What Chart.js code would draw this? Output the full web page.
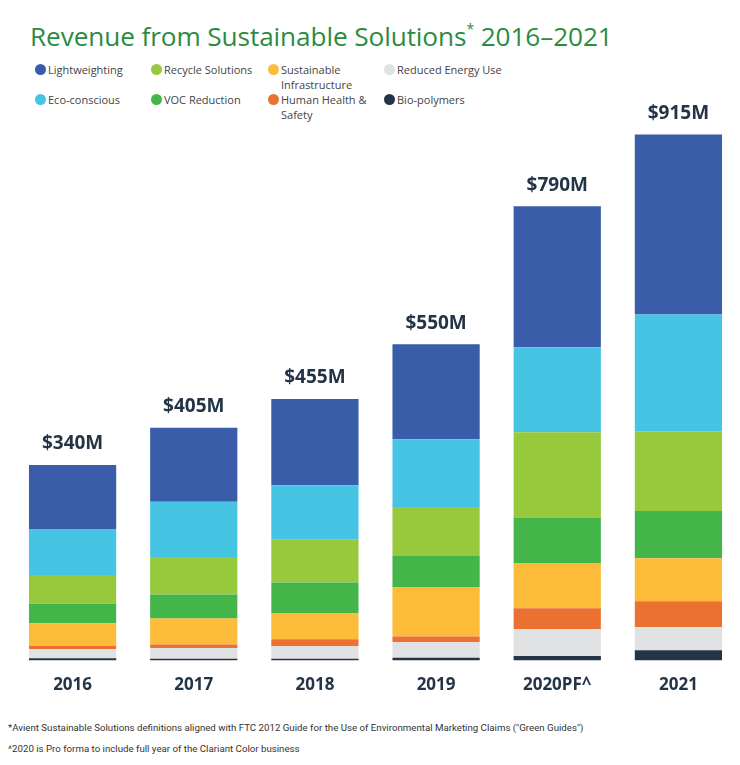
<!DOCTYPE html>
<html>
<head>
<meta charset="utf-8">
<script src="https://cdn.jsdelivr.net/npm/chart.js@4.4.1/dist/chart.umd.min.js"></script>
<style>
  html, body { margin: 0; padding: 0; background: #fff; }
  body { width: 740px; height: 765px; position: relative; overflow: hidden; font-family: "Open Sans", "Noto Sans", sans-serif; }
  #title { position: absolute; left: 30px; top: 18px; font-size: 26.2px; color: #2b8c3f; font-weight: 400; letter-spacing: -0.1px; white-space: nowrap; }
  #title sup { font-size: 14px; position: relative; top: -2px; }
  #legend { position: absolute; left: 0; top: 0; width: 740px; height: 120px; }
  .li { position: absolute; font-size: 11px; line-height: 15px; color: #444; }
  .dot { position: absolute; width: 11px; height: 11px; border-radius: 50%; left: -13px; top: 2px; }
  #wrap { position: absolute; left: 0; top: 90px; width: 740px; height: 620px; }
  .fn { position: absolute; left: 8px; font-size: 9.7px; color: #333; white-space: nowrap; font-family: "Liberation Sans Narrow", "Roboto", sans-serif; }
</style>
</head>
<body>
<div id="title">Revenue from Sustainable Solutions<sup>*</sup> 2016–2021</div>
<div id="legend"></div>
<div id="wrap"><canvas id="c"></canvas></div>
<div class="fn" style="top:722px;">*Avient Sustainable Solutions definitions aligned with FTC 2012 Guide for the Use of Environmental Marketing Claims ("Green Guides")</div>
<div class="fn" style="top:743px;">^2020 is Pro forma to include full year of the Clariant Color business</div>
<script>
// Categories and tick labels
const categories = ["2016", "2017", "2018", "2019", "2020PF^", "2021"];
const totalLabels = ["$340M", "$405M", "$455M", "$550M", "$790M", "$915M"];

// Series values ($M), bottom to top of each stack
const bioPolymers        = [4, 3, 3, 5, 8, 18];
const reducedEnergyUse   = [16, 19, 22, 27, 47, 40];
const humanHealthSafety  = [6, 6, 12, 10, 36, 45];
const sustainableInfra   = [39, 45, 45, 85, 78, 75];
const vocReduction       = [34, 42, 54, 55, 80, 82];
const recycleSolutions   = [50, 65, 74, 85, 148, 139];
const ecoConscious       = [80, 96, 95, 118, 148, 203];
const lightweighting     = [111, 129, 150, 165, 245, 313];

const seriesNames = ["Lightweighting", "Eco-conscious", "Recycle Solutions", "VOC Reduction",
  "Sustainable Infrastructure", "Human Health & Safety", "Reduced Energy Use", "Bio-polymers"];
const seriesColors = ["#3a5daa", "#45c4e3", "#97c93d", "#44b549", "#fdbb3a", "#ea7132", "#e0e1e3", "#243447"];
const seriesData = [lightweighting, ecoConscious, recycleSolutions, vocReduction,
  sustainableInfra, humanHealthSafety, reducedEnergyUse, bioPolymers];

// Legend (HTML)
const legendSpec = [
  { i: 0, x: 48, y: 62, t: "Lightweighting" },
  { i: 2, x: 164, y: 62, t: "Recycle Solutions" },
  { i: 4, x: 281, y: 62, t: "Sustainable<br>Infrastructure" },
  { i: 6, x: 397, y: 62, t: "Reduced Energy Use" },
  { i: 1, x: 48, y: 92, t: "Eco-conscious" },
  { i: 3, x: 164, y: 92, t: "VOC Reduction" },
  { i: 5, x: 281, y: 92, t: "Human Health &amp;<br>Safety" },
  { i: 7, x: 397, y: 92, t: "Bio-polymers" }
];
const lg = document.getElementById('legend');
legendSpec.forEach(s => {
  const d = document.createElement('div');
  d.className = 'li';
  d.style.left = s.x + 'px';
  d.style.top = s.y + 'px';
  d.innerHTML = '<span class="dot" style="background:' + seriesColors[s.i] + '"></span>' + s.t;
  lg.appendChild(d);
});

// Draw datasets bottom first
const order = [7, 6, 5, 4, 3, 2, 1, 0];
const datasets = order.map(k => ({
  label: seriesNames[k],
  data: seriesData[k],
  backgroundColor: seriesColors[k],
  borderWidth: 0,
  barPercentage: 0.72,
  categoryPercentage: 1.0
}));

const totalsPlugin = {
  id: 'totals',
  afterDatasetsDraw(chart) {
    const ctx = chart.ctx;
    const lastMeta = chart.getDatasetMeta(chart.data.datasets.length - 1);
    ctx.save();
    ctx.font = 'bold 19px "Open Sans", sans-serif';
    ctx.fillStyle = '#243447';
    ctx.textAlign = 'center';
    ctx.textBaseline = 'middle';
    lastMeta.data.forEach((bar, i) => {
      ctx.fillText(totalLabels[i], bar.x, bar.y - 21);
    });
    ctx.restore();
  }
};

new Chart(document.getElementById('c'), {
  type: 'bar',
  data: { labels: categories, datasets },
  plugins: [totalsPlugin],
  options: {
    responsive: true,
    maintainAspectRatio: false,
    animation: false,
    layout: { padding: { top: 30, left: 12, right: 1, bottom: 1 } },
    plugins: { legend: { display: false }, tooltip: { enabled: false } },
    scales: {
      x: {
        stacked: true,
        grid: { display: false, drawTicks: false },
        border: { display: false },
        ticks: { color: '#243447', font: { family: '"Open Sans", sans-serif', size: 17, weight: 'bold' }, padding: 14 }
      },
      y: {
        stacked: true,
        display: false,
        min: 0,
        max: 940
      }
    }
  }
});
</script>
</body>
</html>
